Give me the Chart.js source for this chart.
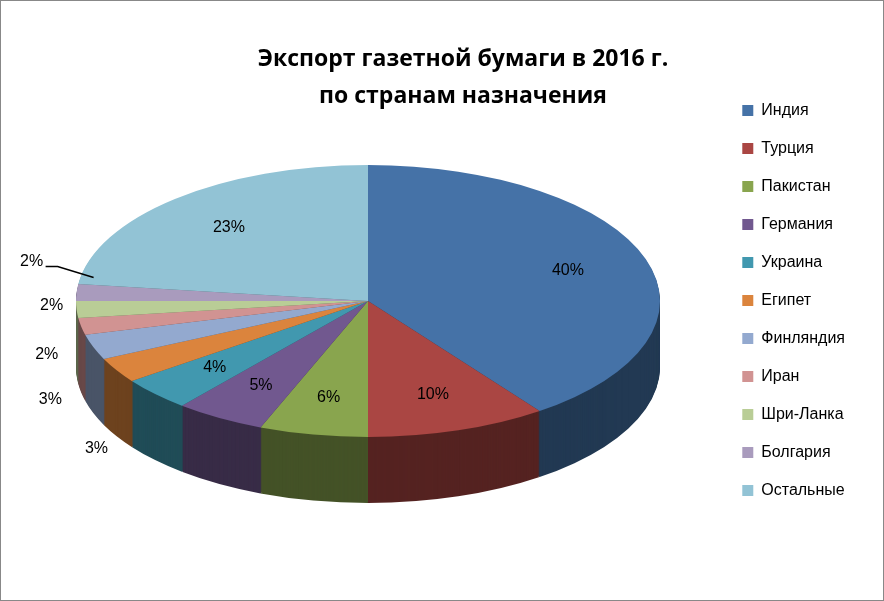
<!DOCTYPE html><html><head><meta charset="utf-8">
<script src="https://cdn.jsdelivr.net/npm/chart.js@4/dist/chart.umd.min.js"></script>
<style>html,body{margin:0;padding:0;background:#fff}#w{width:882px;height:599px;border:1px solid #888;position:relative}</style>
</head><body><div id="w"><canvas id="c" width="882" height="599"></canvas></div>
<script>
const categories=["Индия","Турция","Пакистан","Германия","Украина","Египет","Финляндия","Иран","Шри-Ланка","Болгария","Остальные"];
const values=[40,10,6,5,4,3,3,2,2,2,23];
const colors=["#4572A7","#AA4643","#89A54E","#71588F","#4198AF","#DB843D","#93A9CF","#D19392","#B9CD96","#A99BBD","#92C3D5"];
function dark(h,f){const n=parseInt(h.slice(1),16);return `rgb(${((n>>16)&255)*f|0},${((n>>8)&255)*f|0},${(n&255)*f|0})`;}
const CX=367,CY=300,RX=292,RY=136,DEPTH=66;
// label nudges for the small outside slices (screen px)
const smallLabelShift={5:[20,30],6:[0,20],7:[10,10],8:[20,-10],9:[0,-30]};
function xf(ctx,a){const r=a.outerRadius;ctx.translate(CX,CY);ctx.scale(RX/r,RY/r);ctx.translate(-a.x,-a.y);}
const pie3d={id:'pie3d',
 beforeDatasetsDraw(chart){const ctx=chart.ctx,meta=chart.getDatasetMeta(0);
  for(let d=DEPTH;d>=1;d--){ctx.save();ctx.translate(0,d);xf(ctx,meta.data[0]);
   meta.data.forEach((a,i)=>{const o=a.options.backgroundColor;a.options.backgroundColor=dark(colors[i],0.5);a.draw(ctx);a.options.backgroundColor=o;});
   ctx.restore();}
  ctx.save();xf(ctx,meta.data[0]);},
 afterDatasetsDraw(chart){const ctx=chart.ctx;ctx.restore();const meta=chart.getDatasetMeta(0);
  ctx.save();ctx.font='16px "Liberation Sans", Arial';ctx.fillStyle='#000';ctx.textAlign='center';ctx.textBaseline='middle';
  meta.data.forEach((a,i)=>{const m=(a.startAngle+a.endAngle)/2;let f=values[i]>=4?0.72:1.12;
   let x=CX+Math.cos(m)*RX*f,y=CY+Math.sin(m)*RY*f;
   if(values[i]<4){if(Math.sin(m)>0)y+=DEPTH*Math.sin(m)*1.2;x-=10;const s=smallLabelShift[i]||[0,0];x+=s[0];y+=s[1];
    if(i===9){ctx.strokeStyle='#000';ctx.lineWidth=1.5;ctx.beginPath();ctx.moveTo(x+14,y+5);ctx.lineTo(x+26,y+5);ctx.lineTo(x+62,y+16);ctx.stroke();}}
   ctx.fillText(values[i]+'%',x,y);});
  ctx.restore();}};
new Chart(document.getElementById('c'),{type:'pie',
 data:{labels:categories,datasets:[{data:values,backgroundColor:colors,borderWidth:0,hoverOffset:0}]},
 options:{responsive:false,animation:false,events:[],
  layout:{padding:{top:10,right:28,left:70,bottom:10}},
  plugins:{tooltip:{enabled:false},
   title:{display:true,text:['Экспорт газетной бумаги в 2016 г.','по странам назначения'],font:{size:23,weight:'bold',family:'"Open Sans", Arial',lineHeight:1.6},color:'#000',padding:{top:30,bottom:100}},
   legend:{position:'right',labels:{boxWidth:11,boxHeight:11,padding:22,color:'#000',font:{size:16,family:'"Liberation Sans", Arial'}}}}},
 plugins:[pie3d]});
</script></body></html>
